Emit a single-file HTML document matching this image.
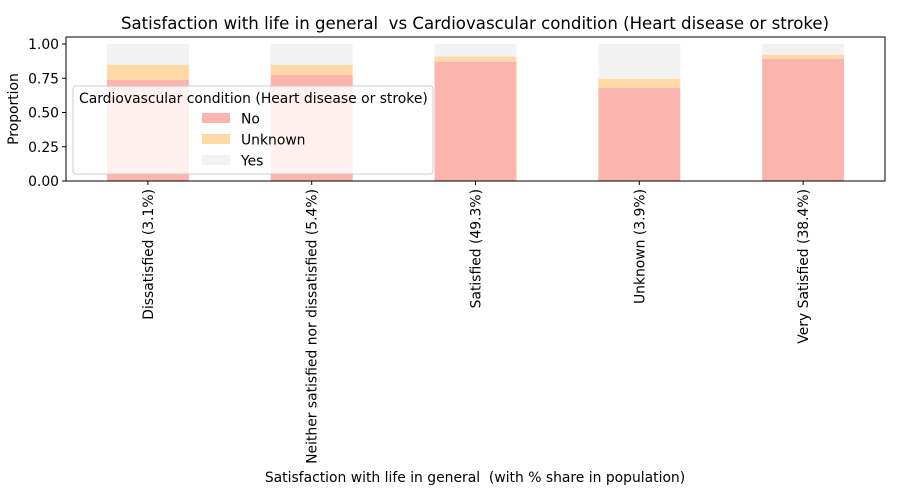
<!DOCTYPE html>
<html><head><meta charset="utf-8"><style>body{margin:0;background:#fff}svg{display:block;font-family:"DejaVu Sans","Liberation Sans",sans-serif}text{white-space:pre}</style></head>
<body>
<svg id="chart" width="900" height="500">
<text x="475" y="29" font-size="16.6" text-anchor="middle">Satisfaction with life in general  vs Cardiovascular condition (Heart disease or stroke)</text>
<g id="bars"></g>
<g id="axes"></g>
<rect x="66" y="37" width="819" height="144" fill="none" stroke="#000" stroke-width="1"/>
<g>
<rect x="73" y="86" width="360" height="88" rx="3" fill="#fff" fill-opacity="0.8" stroke="#ccc"/>
<text x="79" y="103" font-size="13.9">Cardiovascular condition (Heart disease or stroke)</text>
<rect x="202" y="113" width="28" height="10" fill="#fbb4ae"/>
<text x="241" y="123.5" font-size="13.9">No</text>
<rect x="202" y="134" width="28" height="10" fill="#fed9a6"/>
<text x="241" y="144.5" font-size="13.9">Unknown</text>
<rect x="202" y="155" width="28" height="10" fill="#f2f2f2"/>
<text x="241" y="165.5" font-size="13.9">Yes</text>
</g>
<text x="475" y="482" font-size="13.9" text-anchor="middle">Satisfaction with life in general  (with % share in population)</text>
<text transform="translate(18,109) rotate(-90)" font-size="13.9" text-anchor="middle">Proportion</text>
</svg>
<script>
const categories = ["Dissatisfied (3.1%)","Neither satisfied nor dissatisfied (5.4%)","Satisfied (49.3%)","Unknown (3.9%)","Very Satisfied (38.4%)"];
const noValues = [0.737,0.774,0.871,0.681,0.893];
const unknownValues = [0.112,0.075,0.037,0.066,0.029];
const yesValues = [0.151,0.151,0.092,0.253,0.078];
const yTicks = [0,0.25,0.5,0.75,1.0];
const yTickLabels = ["0.00","0.25","0.50","0.75","1.00"];
const NS="http://www.w3.org/2000/svg";
const x0=66,plotW=819,yBase=181,yTop=44;
const y=v=>yBase-(yBase-yTop)*v;
const step=plotW/categories.length;
const xc=i=>x0+step*(i+0.5);
const bw=82;
const bars=document.getElementById('bars'),axes=document.getElementById('axes');
function mk(tag,attrs,parent){const e=document.createElementNS(NS,tag);for(const k in attrs)e.setAttribute(k,attrs[k]);parent.appendChild(e);return e;}
const series=[["no",noValues,"#fbb4ae"],["unknown",unknownValues,"#fed9a6"],["yes",yesValues,"#f2f2f2"]];
categories.forEach((c,i)=>{
  let base=0;
  series.forEach(([n,vals,col])=>{
    const v=vals[i];
    const r=mk('rect',{x:xc(i)-bw/2,y:y(base+v),width:bw,height:y(base)-y(base+v),fill:col},bars);
    
    
    base+=v;
  });
  const t=mk('line',{x1:xc(i),x2:xc(i),y1:181,y2:185,stroke:'#000'},axes);
  
  
  const lab=mk('text',{transform:`translate(${xc(i)+5},189) rotate(-90)`,'font-size':13.9,'text-anchor':'end'},axes);
  lab.textContent=c;
  
  
});
yTicks.forEach((v,i)=>{
  const t=mk('line',{x1:62,x2:66,y1:y(v),y2:y(v),stroke:'#000'},axes);
  
  
  const lab=mk('text',{x:59,y:y(v)+5,'font-size':13.9,'text-anchor':'end'},axes);
  lab.textContent=yTickLabels[i];
  
  
});
</script>
</body></html>
